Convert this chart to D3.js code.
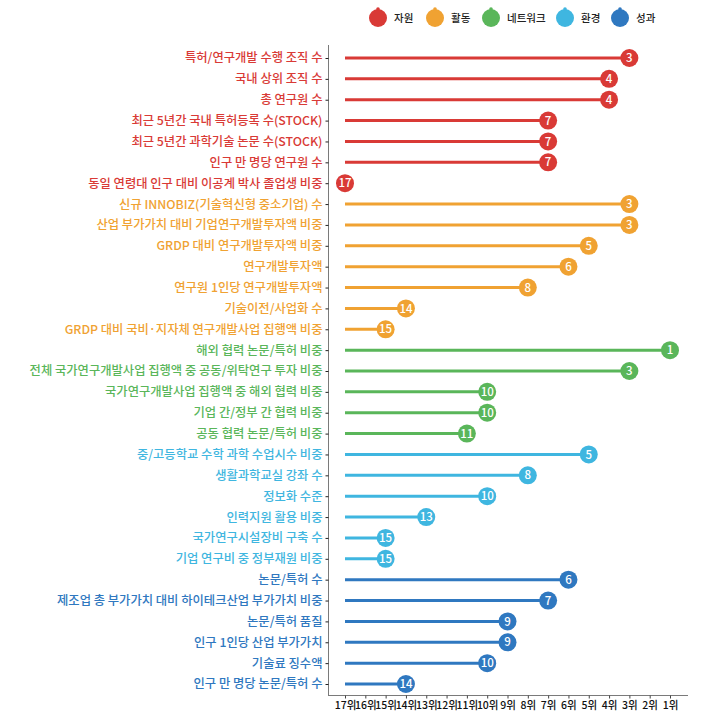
<!DOCTYPE html>
<html>
<head>
<meta charset="utf-8">
<script src="https://cdn.jsdelivr.net/npm/d3@7"></script>
<style>
  body { margin: 0; background: #fff; }
  text { font-family: "Noto Sans CJK KR", "Noto Sans", sans-serif; }
</style>
</head>
<body>
<div id="chart"></div>
<script>
  var groups = ["자원", "활동", "네트워크", "환경", "성과"];
  var groupColors = ["#d93a36", "#f0a232", "#5ab65a", "#3fb6e0", "#2f78c0"];

  var labels자원 = ["특허/연구개발 수행 조직 수", "국내 상위 조직 수", "총 연구원 수",
    "최근 5년간 국내 특허등록 수(STOCK)", "최근 5년간 과학기술 논문 수(STOCK)",
    "인구 만 명당 연구원 수", "동일 연령대 인구 대비 이공계 박사 졸업생 비중"];
  var ranks자원 = [3, 4, 4, 7, 7, 7, 17];

  var labels활동 = ["신규 INNOBIZ(기술혁신형 중소기업) 수", "산업 부가가치 대비 기업연구개발투자액 비중",
    "GRDP 대비 연구개발투자액 비중", "연구개발투자액", "연구원 1인당 연구개발투자액",
    "기술이전/사업화 수", "GRDP 대비 국비·지자체 연구개발사업 집행액 비중"];
  var ranks활동 = [3, 3, 5, 6, 8, 14, 15];

  var labels네트워크 = ["해외 협력 논문/특허 비중", "전체 국가연구개발사업 집행액 중 공동/위탁연구 투자 비중",
    "국가연구개발사업 집행액 중 해외 협력 비중", "기업 간/정부 간 협력 비중", "공동 협력 논문/특허 비중"];
  var ranks네트워크 = [1, 3, 10, 10, 11];

  var labels환경 = ["중/고등학교 수학 과학 수업시수 비중", "생활과학교실 강좌 수", "정보화 수준",
    "인력지원 활용 비중", "국가연구시설장비 구축 수", "기업 연구비 중 정부재원 비중"];
  var ranks환경 = [5, 8, 10, 13, 15, 15];

  var labels성과 = ["논문/특허 수", "제조업 총 부가가치 대비 하이테크산업 부가가치 비중", "논문/특허 품질",
    "인구 1인당 산업 부가가치", "기술료 징수액", "인구 만 명당 논문/특허 수"];
  var ranks성과 = [6, 7, 9, 9, 10, 14];

  var rankTicks = d3.range(17, 0, -1);

  var allLabels = [labels자원, labels활동, labels네트워크, labels환경, labels성과];
  var allRanks = [ranks자원, ranks활동, ranks네트워크, ranks환경, ranks성과];
  var rows = [];
  allLabels.forEach(function(ls, g) {
    ls.forEach(function(l, i) {
      rows.push({ label: l, rank: allRanks[g][i], color: groupColors[g] });
    });
  });

  var width = 720, height = 719;
  var svg = d3.select("#chart").append("svg").attr("width", width).attr("height", height);

  var x = d3.scaleLinear().domain([17, 1]).range([345, 670]);
  var y = d3.scalePoint().domain(rows.map(function(d) { return d.label; })).range([58, 684]);

  // axes frame
  svg.append("line").attr("x1", 328.5).attr("x2", 328.5).attr("y1", 45).attr("y2", 695.5)
    .attr("stroke", "#7a7a7a").attr("stroke-width", 1);
  svg.append("line").attr("x1", 328).attr("x2", 688).attr("y1", 695.5).attr("y2", 695.5)
    .attr("stroke", "#7a7a7a").attr("stroke-width", 1);

  var yAxis = svg.append("g").attr("transform", "translate(328.5,0)")
    .call(d3.axisLeft(y).tickSize(3).tickPadding(3));
  yAxis.select(".domain").remove();
  yAxis.selectAll(".tick line").attr("stroke", "#222");
  yAxis.selectAll(".tick text")
    .attr("font-size", 12.3)
    .attr("font-weight", 500)
    .attr("fill", function(d, i) { return rows[i].color; });

  var xAxis = svg.append("g").attr("transform", "translate(0,695.5)")
    .call(d3.axisBottom(x).tickValues(rankTicks).tickSize(3).tickPadding(3)
      .tickFormat(function(d) { return d + "위"; }));
  xAxis.select(".domain").remove();
  xAxis.selectAll(".tick line").attr("stroke", "#444");
  xAxis.selectAll(".tick text").attr("font-size", 10.5).attr("font-weight", 500).attr("fill", "#111");

  // lollipops
  var lol = svg.append("g");
  lol.selectAll("line").data(rows).enter().append("line")
    .attr("x1", x(17)).attr("x2", function(d) { return x(d.rank); })
    .attr("y1", function(d) { return y(d.label); })
    .attr("y2", function(d) { return y(d.label); })
    .attr("stroke", function(d) { return d.color; })
    .attr("stroke-width", 3);
  lol.selectAll("circle").data(rows).enter().append("circle")
    .attr("cx", function(d) { return x(d.rank); })
    .attr("cy", function(d) { return y(d.label); })
    .attr("r", 9)
    .attr("fill", function(d) { return d.color; });
  lol.selectAll("text").data(rows).enter().append("text")
    .attr("x", function(d) { return x(d.rank); })
    .attr("y", function(d) { return y(d.label); })
    .attr("dy", "0.36em")
    .attr("text-anchor", "middle")
    .attr("font-size", 11.5)
    .attr("font-weight", 500)
    .attr("fill", "#fff")
    .text(function(d) { return d.rank; });

  // legend
  var legendX = [378, 435, 491, 565, 620];
  var legend = svg.append("g");
  groups.forEach(function(g, i) {
    var item = legend.append("g").attr("transform", "translate(" + legendX[i] + ",18)");
    item.append("circle").attr("r", 9).attr("fill", groupColors[i]);
    item.append("circle").attr("cy", -9).attr("r", 1.8).attr("fill", groupColors[i]);
    item.append("text").attr("x", 16).attr("dy", "0.36em")
      .attr("font-size", 10.5).attr("font-weight", 500).attr("fill", "#222").text(g);
  });
</script>
</body>
</html>
